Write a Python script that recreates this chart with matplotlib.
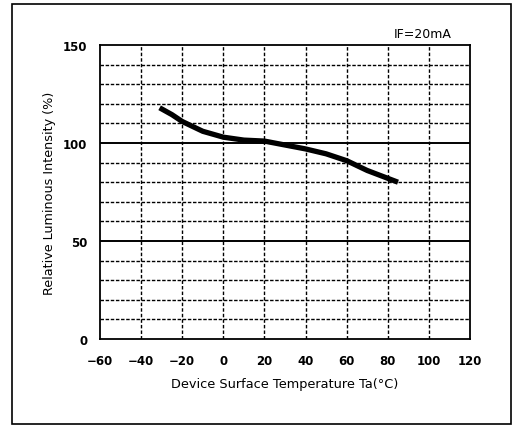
import matplotlib
matplotlib.use("Agg")
import matplotlib.pyplot as plt
from matplotlib.patches import Rectangle

# curve
temps = [-31, -25, -20, -10, 0, 10, 20, 30, 40, 50, 60, 70, 80, 85]
intensity = [118, 114.5, 111, 106, 103, 101.5, 101, 99, 97, 94.5, 91, 86, 82, 80]

x_ticks = [-60, -40, -20, 0, 20, 40, 60, 80, 100, 120]
y_ticks = [0, 50, 100, 150]
y_minor = [10, 20, 30, 40, 60, 70, 80, 90, 110, 120, 130, 140]

plt.rcParams['font.family'] = 'DejaVu Sans'

fig = plt.figure(figsize=(5.13, 4.27), dpi=100)
ax = fig.add_axes([0.195, 0.204, 0.721, 0.688])

# dashed grid like the printed sheet
for x in x_ticks[1:-1]:
    ax.axvline(x, color='black', lw=1.0, ls=(0, (2.5, 1.5)), zorder=1)
for y in y_minor:
    ax.axhline(y, color='black', lw=1.0, ls=(0, (2.5, 1.2)), zorder=1)
for y in [50, 100]:
    ax.axhline(y, color='black', lw=1.4, zorder=1)

ax.plot(temps, intensity, color='black', lw=3.8, solid_capstyle='butt', zorder=3)

ax.set_xlim(-60, 120)
ax.set_ylim(0, 150)
ax.set_xticks(x_ticks)
ax.set_yticks(y_ticks)
ax.set_xticklabels([str(v) if v >= 0 else '\u2212' + str(-v) for v in x_ticks],
                   fontsize=8.5, fontweight='bold')
ax.set_yticklabels([str(v) for v in y_ticks], fontsize=8.5, fontweight='bold')
ax.tick_params(axis='y', length=0, pad=9)
ax.tick_params(axis='x', length=0, pad=11)
for s in ax.spines.values():
    s.set_linewidth(1.3)

ax.set_xlabel('Device Surface Temperature Ta(\u00b0C)', fontsize=9.3, labelpad=7)
ax.set_ylabel('Relative Luminous Intensity (%)', fontsize=9.2, labelpad=5)
ax.text(111, 152.5, 'IF=20mA', fontsize=9, ha='right', va='bottom')

# outer frame of the scanned page
fig.patches.append(Rectangle((12 / 513, 2 / 427), 499 / 513, 420 / 427,
                             transform=fig.transFigure, fill=False,
                             edgecolor='black', lw=1.2))

fig.savefig('out.png', dpi=100)
